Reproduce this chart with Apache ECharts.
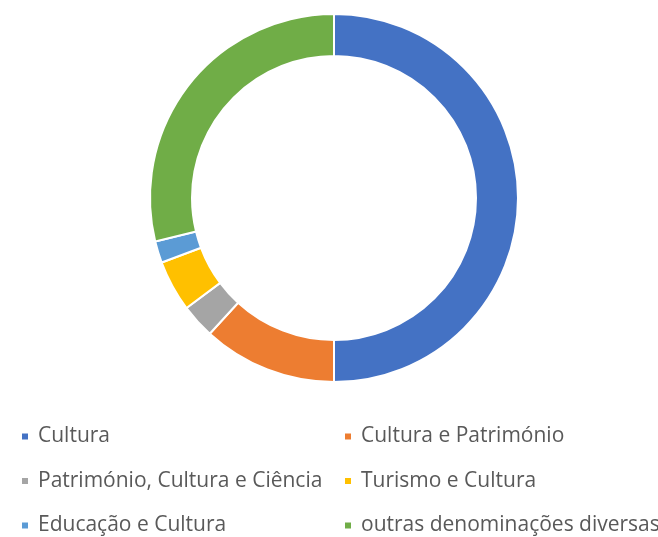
<!DOCTYPE html>
<html><head><meta charset="utf-8">
<script src="https://cdn.jsdelivr.net/npm/echarts@6/dist/echarts.min.js"></script>
<style>html,body{margin:0;padding:0;background:#fff}#c{width:658px;height:537px}</style>
</head><body><div id="c"></div>
<script>
var categories = ["Cultura","Cultura e Património","Património, Cultura e Ciência","Turismo e Cultura","Educação e Cultura","outras denominações diversas"];
var values = [50, 11.8, 3.0, 4.5, 1.9, 28.8];
var colors = ["#4472C4","#ED7D31","#A5A5A5","#FFC000","#5B9BD5","#70AD47"];

var chart = echarts.init(document.getElementById('c'));
var legendText = {color:'#595959', fontSize:21, lineHeight:21, fontFamily:'Open Sans', padding:[0,0,0,4]};
chart.setOption({
  animation:false,
  color: colors,
  legend: [
    {data:[categories[0],categories[2],categories[4]], orient:'vertical', left:20, top:426, padding:0, itemGap:23.5, itemWidth:8, itemHeight:8, icon:'rect', textStyle:legendText, selectedMode:false},
    {data:[categories[1],categories[3],categories[5]], orient:'vertical', left:343, top:426, padding:0, itemGap:23.5, itemWidth:8, itemHeight:8, icon:'rect', textStyle:legendText, selectedMode:false}
  ],
  series:[{
    type:'pie',
    center:[334,198],
    radius:[142,184],
    startAngle:90,
    clockwise:true,
    label:{show:false},
    labelLine:{show:false},
    emphasis:{disabled:true},
    itemStyle:{borderColor:'#fff', borderWidth:2},
    data: categories.map(function(n,i){return {name:n, value:values[i]};})
  }]
});
</script></body></html>
